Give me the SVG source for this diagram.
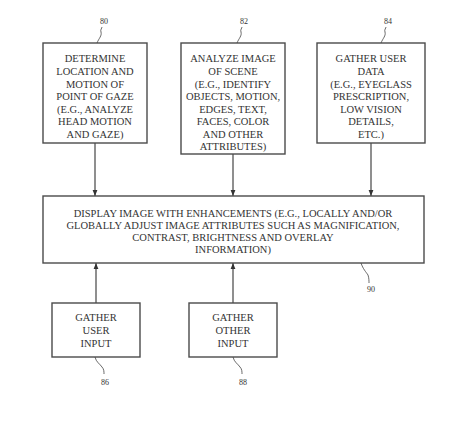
<svg xmlns="http://www.w3.org/2000/svg" width="452" height="421" viewBox="0 0 452 421">
<style>
.box{fill:#fff;stroke:#4a4a4a;stroke-width:1.4}
.t{font-family:"Liberation Serif","Times New Roman",serif;font-size:10.5px;fill:#333;text-anchor:middle}
.ref{font-family:"Liberation Serif","Times New Roman",serif;font-size:8px;fill:#333;text-anchor:middle}
.c{stroke:#333;stroke-width:1.1;fill:none}
.ld{stroke:#444;stroke-width:0.8;fill:none}
</style>
<defs>
<marker id="ah" viewBox="0 0 10 10" refX="10" refY="5" markerWidth="6" markerHeight="7" orient="auto" markerUnits="userSpaceOnUse">
<path d="M0,1 L10,5 L0,9 Z" fill="#333"/>
</marker>
</defs>
<rect width="452" height="421" fill="#fff"/>
<g id="connectors">
<line class="c" x1="95" y1="143" x2="95" y2="196" marker-end="url(#ah)"/>
<line class="c" x1="233" y1="154" x2="233" y2="196" marker-end="url(#ah)"/>
<line class="c" x1="371" y1="143" x2="371" y2="196" marker-end="url(#ah)"/>
<line class="c" x1="96" y1="303" x2="96" y2="263" marker-end="url(#ah)"/>
<line class="c" x1="233" y1="303" x2="233" y2="263" marker-end="url(#ah)"/>
</g>
<g id="n80">
<rect class="box" x="43" y="43" width="104" height="100"/>
<text class="t" x="95" y="62">DETERMINE</text>
<text class="t" x="95" y="75">LOCATION AND</text>
<text class="t" x="95" y="88">MOTION OF</text>
<text class="t" x="95" y="100">POINT OF GAZE</text>
<text class="t" x="95" y="113">(E.G., ANALYZE</text>
<text class="t" x="95" y="125">HEAD MOTION</text>
<text class="t" x="95" y="138">AND GAZE)</text>
<path class="ld" d="M97,43 C99,38 102,36 101,32 C100,30 102,28 102,27"/>
<text class="ref" x="104" y="24">80</text>
</g>
<g id="n82">
<rect class="box" x="181" y="43" width="104" height="111"/>
<text class="t" x="233" y="62">ANALYZE IMAGE</text>
<text class="t" x="233" y="75">OF SCENE</text>
<text class="t" x="233" y="88">(E.G., IDENTIFY</text>
<text class="t" x="233" y="100">OBJECTS, MOTION,</text>
<text class="t" x="233" y="113">EDGES, TEXT,</text>
<text class="t" x="233" y="125">FACES, COLOR</text>
<text class="t" x="233" y="138">AND OTHER</text>
<text class="t" x="233" y="150">ATTRIBUTES)</text>
<path class="ld" d="M237,43 C239,38 242,36 241,32 C240,30 242,28 242,27"/>
<text class="ref" x="244" y="24">82</text>
</g>
<g id="n84">
<rect class="box" x="317" y="43" width="108" height="100"/>
<text class="t" x="371" y="62">GATHER USER</text>
<text class="t" x="371" y="75">DATA</text>
<text class="t" x="371" y="88">(E.G., EYEGLASS</text>
<text class="t" x="371" y="100">PRESCRIPTION,</text>
<text class="t" x="371" y="113">LOW VISION</text>
<text class="t" x="371" y="125">DETAILS,</text>
<text class="t" x="371" y="138">ETC.)</text>
<path class="ld" d="M381,43 C383,38 386,36 385,32 C384,30 386,28 386,27"/>
<text class="ref" x="388" y="24">84</text>
</g>
<g id="n90">
<rect class="box" x="43" y="196" width="381" height="67"/>
<text class="t" x="233" y="216.5">DISPLAY IMAGE WITH ENHANCEMENTS (E.G., LOCALLY AND/OR</text>
<text class="t" x="233" y="228.5">GLOBALLY ADJUST IMAGE ATTRIBUTES SUCH AS MAGNIFICATION,</text>
<text class="t" x="233" y="241">CONTRAST, BRIGHTNESS AND OVERLAY</text>
<text class="t" x="233" y="253">INFORMATION)</text>
<path class="ld" d="M361,263 C363,269 366,272 368,275 C369,278 369,281 369,283"/>
<text class="ref" x="371" y="292">90</text>
</g>
<g id="n86">
<rect class="box" x="52" y="303" width="88" height="54"/>
<text class="t" x="96" y="321">GATHER</text>
<text class="t" x="96" y="334">USER</text>
<text class="t" x="96" y="347">INPUT</text>
<path class="ld" d="M95,357 C96,362 100,364 102,367 C104,369 104,372 104,374"/>
<text class="ref" x="105" y="385">86</text>
</g>
<g id="n88">
<rect class="box" x="189" y="303" width="88" height="54"/>
<text class="t" x="233" y="321">GATHER</text>
<text class="t" x="233" y="334">OTHER</text>
<text class="t" x="233" y="347">INPUT</text>
<path class="ld" d="M233,357 C234,362 238,364 240,367 C242,369 242,372 242,374"/>
<text class="ref" x="243" y="385">88</text>
</g>
</svg>
